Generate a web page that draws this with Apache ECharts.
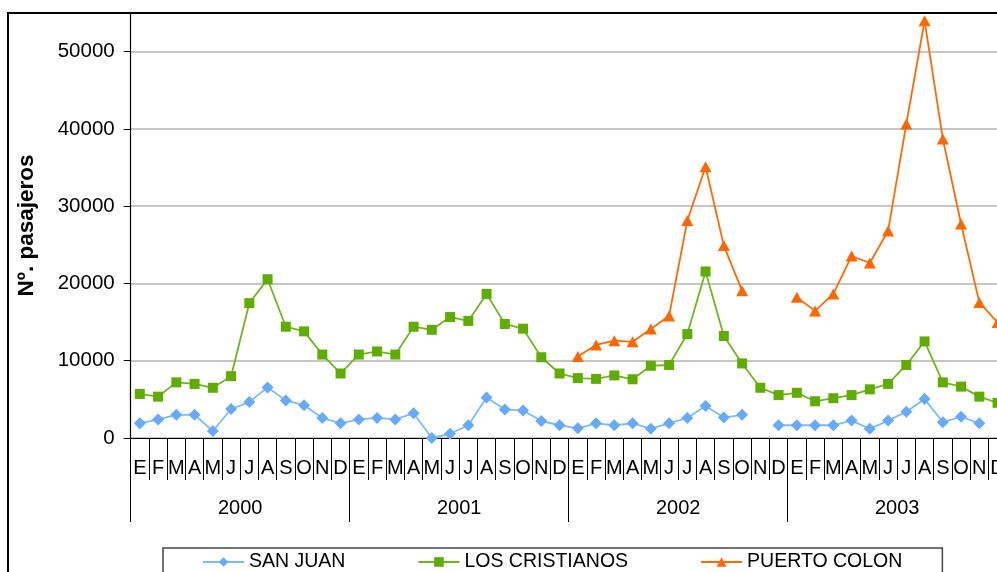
<!DOCTYPE html>
<html>
<head>
<meta charset="utf-8">
<script src="https://cdn.jsdelivr.net/npm/echarts@6/dist/echarts.min.js"></script>
<style>
  html, body { margin: 0; padding: 0; background: #ffffff; }
  #chart { width: 997px; height: 572px; }
</style>
</head>
<body>
<div id="chart"></div>
<script>
// Month initials (Spanish) and years shown on the two-level category axis
const monthLetters = ['E', 'F', 'M', 'A', 'M', 'J', 'J', 'A', 'S', 'O', 'N', 'D'];
const years = ['2000', '2001', '2002', '2003'];

// Monthly passengers per port, January 2000 – December 2003
const sanJuan = [
  1900, 2400, 3000, 3000, 900, 3750, 4650, 6550, 4850, 4250, 2600, 1900,
  2400, 2600, 2400, 3200, 0, 550, 1650, 5250, 3700, 3550, 2200, 1650,
  1250, 1900, 1650, 1900, 1200, 1900, 2600, 4150, 2650, 3000, null, 1650,
  1650, 1650, 1650, 2250, 1200, 2250, 3400, 5050, 2050, 2750, 1900, null
];
const losCristianos = [
  5700, 5350, 7200, 7000, 6500, 8000, 17450, 20550, 14400, 13800, 10800, 8350,
  10800, 11200, 10800, 14400, 14000, 15650, 15150, 18650, 14750, 14150, 10450, 8350,
  7750, 7650, 8100, 7600, 9350, 9450, 13450, 21550, 13200, 9650, 6500, 5550,
  5850, 4750, 5150, 5550, 6300, 7000, 9450, 12500, 7200, 6650, 5350, 4550
];
const puertoColon = [
  null, null, null, null, null, null, null, null, null, null, null, null,
  null, null, null, null, null, null, null, null, null, null, null, null,
  10550, 12050, 12600, 12450, 14100, 15800, 28150, 35100, 24900, 19050, null, null,
  18200, 16450, 18650, 23550, 22650, 26800, 40650, 54000, 38700, 27700, 17550, 14950
];

const seriesNames = ['SAN JUAN', 'LOS CRISTIANOS', 'PUERTO COLON'];
const yTitle = 'Nº. pasajeros';

const monthCategories = [];
years.forEach(function () { monthLetters.forEach(function (m) { monthCategories.push(m); }); });

const FONT = '"Liberation Sans", Arial, sans-serif';

const chart = echarts.init(document.getElementById('chart'), null, { renderer: 'canvas' });

chart.setOption({
  backgroundColor: '#ffffff',
  animation: false,
  textStyle: { fontFamily: FONT },
  graphic: [
    {
      type: 'rect',
      silent: true,
      z: 100,
      shape: { x: 8, y: 13, width: 2000, height: 2000 },
      style: { fill: null, stroke: '#000000', lineWidth: 2 }
    }
  ],
  grid: {
    left: 130.7, top: 13, width: 876, height: 425,
    containLabel: false,
    outerBoundsMode: 'none'
  },
  legend: {
    data: seriesNames,
    left: 163,
    top: 548,
    orient: 'horizontal',
    selectedMode: false,
    borderColor: '#444444',
    borderWidth: 1.5,
    padding: [4, 40, 20, 39],
    itemGap: 72,
    itemWidth: 41,
    itemHeight: 12,
    textStyle: { fontFamily: FONT, fontSize: 19.5, color: '#000000' }
  },
  xAxis: [
    {
      type: 'category',
      position: 'bottom',
      data: monthCategories,
      boundaryGap: true,
      axisLine: { show: true, lineStyle: { color: '#000000', width: 1.2 } },
      axisTick: { show: true, interval: 0, length: 42, lineStyle: { color: '#000000', width: 1 } },
      axisLabel: { interval: 0, margin: 20, fontSize: 20, color: '#000000', fontFamily: FONT },
      splitLine: { show: false }
    },
    {
      type: 'category',
      position: 'bottom',
      data: years,
      boundaryGap: true,
      axisLine: { show: false },
      axisTick: { show: true, interval: 0, length: 84, lineStyle: { color: '#000000', width: 1 } },
      axisLabel: { interval: 0, margin: 60, fontSize: 20, color: '#000000', fontFamily: FONT },
      splitLine: { show: false }
    }
  ],
  yAxis: {
    type: 'value',
    min: 0,
    max: 55000,
    interval: 10000,
    name: yTitle,
    nameLocation: 'middle',
    nameGap: 92,
    nameTextStyle: { fontSize: 22.5, fontWeight: 'bold', color: '#000000', fontFamily: FONT },
    axisLine: { show: true, lineStyle: { color: '#000000', width: 1.2 } },
    axisTick: { show: true, inside: false, length: 7, lineStyle: { color: '#000000' } },
    axisLabel: {
      showMaxLabel: false, margin: 16, fontSize: 20.5, color: '#000000', fontFamily: FONT,
      formatter: function (v) { return String(v); }
    },
    splitLine: { show: true, lineStyle: { color: '#b3b3b3', width: 1.5 } }
  },
  series: [
    {
      name: seriesNames[0],
      type: 'line',
      xAxisIndex: 0,
      data: sanJuan,
      symbol: 'diamond',
      symbolSize: [12, 12],
      showAllSymbol: true,
      lineStyle: { color: '#7bbcf8', width: 1.8 },
      itemStyle: { color: '#66aaff', borderWidth: 0 },
      connectNulls: false
    },
    {
      name: seriesNames[1],
      type: 'line',
      xAxisIndex: 0,
      data: losCristianos,
      symbol: 'rect',
      symbolSize: [10, 10],
      showAllSymbol: true,
      lineStyle: { color: '#72b51f', width: 1.8 },
      itemStyle: { color: '#5fad00', borderWidth: 0 },
      connectNulls: false
    },
    {
      name: seriesNames[2],
      type: 'line',
      xAxisIndex: 0,
      data: puertoColon,
      symbol: 'triangle',
      symbolSize: [12, 11],
      showAllSymbol: true,
      lineStyle: { color: '#ff6a00', width: 1.8 },
      itemStyle: { color: '#ff6600', borderWidth: 0 },
      connectNulls: false
    }
  ]
});
</script>
</body>
</html>
